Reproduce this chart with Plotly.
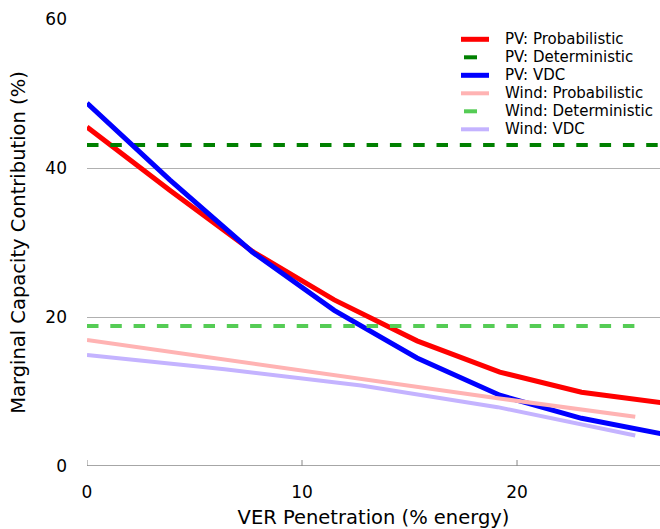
import plotly.graph_objects as go

# Data
pv_x = [0, 3.85, 7.7, 11.5, 15.35, 19.2, 23.0, 26.95]
pv_prob = [45.5, 37.0, 28.8, 22.3, 16.8, 12.6, 9.9, 8.4]
pv_vdc = [48.7, 38.4, 28.7, 20.9, 14.5, 9.5, 6.4, 4.2]
pv_det_x = [0, 26.95]
pv_det = [43.1, 43.1]

wind_x = [0, 6.4, 12.75, 19.1, 25.5]
wind_prob = [16.9, 14.3, 11.6, 9.1, 6.6]
wind_vdc = [14.9, 13.0, 10.8, 7.9, 4.1]
wind_det_x = [0, 25.5]
wind_det = [18.8, 18.8]

x_ticks = [0, 10, 20]
y_ticks = [0, 20, 40, 60]
x_range = [0, 26.65]
y_range = [0, 60]

FONT = "DejaVu Sans"
DASH = "11.5px,11.8px"

series = [
    (pv_x, pv_prob, "PV: Probabilistic", "#ff0000", 5, "solid"),
    (pv_det_x, pv_det, "PV: Deterministic", "#008000", 4, DASH),
    (pv_x, pv_vdc, "PV: VDC", "#0000ff", 5, "solid"),
    (wind_x, wind_prob, "Wind: Probabilistic", "#ffb3b3", 4, "solid"),
    (wind_det_x, wind_det, "Wind: Deterministic", "#55cc55", 4, DASH),
    (wind_x, wind_vdc, "Wind: VDC", "#c4b3ff", 4, "solid"),
]

fig = go.Figure()
for x, y, name, color, width, dash in series:
    fig.add_trace(go.Scatter(x=x, y=y, name=name, mode="lines",
                             line=dict(color=color, width=width, dash=dash)))

W, H = 660, 529
ML, MT, MB = 87, 19, 63
PW = W - ML
PH = H - MT - MB

fig.update_layout(
    width=W, height=H,
    margin=dict(l=ML, r=0, t=MT, b=MB, pad=0),
    paper_bgcolor="white", plot_bgcolor="white",
    font=dict(family=FONT, size=17, color="black"),
    showlegend=False,
    xaxis=dict(range=x_range, tickvals=x_ticks, showgrid=False,
               showline=False, zeroline=False, ticks="",
               ticklabelstandoff=14,
               title=dict(text="VER Penetration (% energy)", standoff=10,
                          font=dict(size=19.5)),
               tickfont=dict(size=17)),
    yaxis=dict(range=y_range, tickvals=y_ticks, showgrid=True,
               gridcolor="#b0b0b0", gridwidth=1, showline=False,
               zeroline=False, ticks="", ticklabelstandoff=19,
               title=dict(text="Marginal Capacity Contribution (%)", standoff=14,
                          font=dict(size=19.5)),
               tickfont=dict(size=17)),
)

# axis baseline at 0 with short upward ticks
fig.add_shape(type="line", xref="x", yref="y", x0=x_range[0], x1=x_range[1],
              y0=0, y1=0, line=dict(color="#888888", width=1.6), layer="above")
for t in x_ticks:
    fig.add_shape(type="line", xref="x", yref="paper", x0=t, x1=t, y0=0, y1=6 / PH,
                  line=dict(color="#888888", width=1), layer="above")

# manual legend (row spacing 18px, like the reference)
def px_to_paper_x(px):
    return (px - ML) / PW

def py_to_paper_y(py):
    return (MT + PH - py) / PH

row0 = 39.3  # pixel y of first legend row
for i, (_, _, name, color, width, dash) in enumerate(series):
    yy = py_to_paper_y(row0 + 18 * i)
    if dash == "solid":
        x0, x1 = 461, 489
    else:
        x0, x1 = 464, 477
    fig.add_shape(type="line", xref="paper", yref="paper",
                  x0=px_to_paper_x(x0), x1=px_to_paper_x(x1), y0=yy, y1=yy,
                  line=dict(color=color, width=width))
    fig.add_annotation(xref="paper", yref="paper", x=px_to_paper_x(503), y=yy,
                       xanchor="left", yanchor="middle", text=name, showarrow=False,
                       font=dict(size=15, family=FONT, color="black"))

fig.write_html("out.html",
               config={"displayModeBar": False},
               post_script="document.body.style.margin='0';"
                           "document.body.style.overflow='hidden';")
